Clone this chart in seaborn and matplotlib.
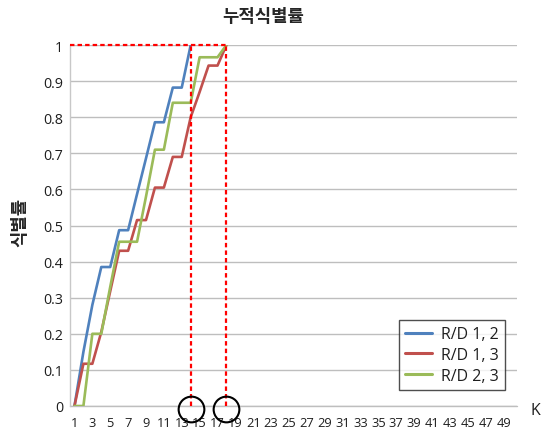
import matplotlib
matplotlib.use("Agg")
import matplotlib.pyplot as plt
import seaborn as sns
import pandas as pd

# Cumulative identification rate by rank K
series_names = ["R/D 1, 2", "R/D 1, 3", "R/D 2, 3"]
rd12 = [0, 0.15, 0.28, 0.385, 0.385, 0.487, 0.487, 0.587, 0.686, 0.786,
        0.786, 0.882, 0.882, 1.0]
rd13 = [0, 0.117, 0.117, 0.205, 0.318, 0.43, 0.43, 0.515, 0.515, 0.605,
        0.605, 0.69, 0.69, 0.8, 0.87, 0.943, 0.943, 1.0]
rd23 = [0, 0, 0.2, 0.2, 0.33, 0.455, 0.455, 0.455, 0.58, 0.71,
        0.71, 0.84, 0.84, 0.84, 0.966, 0.966, 0.966, 1.0]
colors = ["#4F81BD", "#C0504D", "#9BBB59"]

k_max = 50
x_tick_labels = list(range(1, k_max, 2))
y_ticks = [0, 0.1, 0.2, 0.3, 0.4, 0.5, 0.6, 0.7, 0.8, 0.9, 1]
y_tick_labels = ["0", "0.1", "0.2", "0.3", "0.4", "0.5", "0.6", "0.7", "0.8", "0.9", "1"]
marked_ranks = [14, 18]

rows = []
for name, vals in zip(series_names, [rd12, rd13, rd23]):
    for k, v in enumerate(vals, start=1):
        rows.append({"K": k, "rate": v, "series": name})
df = pd.DataFrame(rows)

sns.set_theme(style="white")
plt.rcParams["font.family"] = ["Open Sans", "Noto Sans CJK KR", "DejaVu Sans"]
korean = ["Noto Sans CJK KR", "DejaVu Sans"]
text_color = "#1E1E1E"

fig = plt.figure(figsize=(5.45, 4.31), dpi=100)
ax = fig.add_axes([70 / 545, 24 / 431, 447 / 545, 361 / 431])

sns.lineplot(data=df, x="K", y="rate", hue="series", hue_order=series_names,
             palette=colors, linewidth=1.9, errorbar=None, ax=ax, zorder=3)

ax.set_xlim(0.5, k_max + 0.5)
ax.set_ylim(0, 1)
ax.set_xticks(x_tick_labels)
ax.set_xticklabels([str(v) for v in x_tick_labels], fontsize=9.3, color=text_color)
ax.set_yticks(y_ticks)
ax.set_yticklabels(y_tick_labels, fontsize=10.3, color=text_color)
ax.tick_params(axis="both", length=0)
ax.tick_params(axis="x", pad=7.5)
ax.tick_params(axis="y", pad=5)
ax.set_xlabel("")
ax.set_ylabel("")

# horizontal gridlines
ax.yaxis.grid(True, color="#BEBEBE", linewidth=1.0)
ax.xaxis.grid(False)
for side in ["top", "right", "bottom"]:
    ax.spines[side].set_visible(False)
ax.spines["left"].set_color("#C8C8C8")
ax.spines["left"].set_linewidth(1.0)
ax.axhline(0, color="#BEBEBE", linewidth=1.0, zorder=1, clip_on=False)

# rank markers where the rate reaches 1
dash = (0, (2, 1.4))
ax.plot([0.5, marked_ranks[1]], [1, 1], color="#FF0000", linewidth=1.6,
        linestyle=dash, zorder=5, clip_on=False)
for k in marked_ranks:
    ax.plot([k, k], [0, 1], color="#FF0000", linewidth=1.6,
            linestyle=dash, zorder=5)
    ax.plot([k], [-0.008], marker="o", markersize=18.5, fillstyle="none",
            markeredgecolor="black", markeredgewidth=1.5, linestyle="none",
            zorder=6, clip_on=False)

handles, labels = ax.get_legend_handles_labels()
leg = ax.legend(handles, labels, loc="lower right",
                bbox_to_anchor=(0.991, 0.022), frameon=True, fancybox=False,
                fontsize=11.5, handlelength=1.7, handletextpad=0.55,
                labelspacing=0.3, borderpad=0.4)
leg.get_frame().set_edgecolor("#222222")
leg.get_frame().set_linewidth(1.0)
for line in leg.get_lines():
    line.set_linewidth(2.2)
for t in leg.get_texts():
    t.set_color(text_color)

ax.text(535 / 447 - 70 / 447, -0.011, "K", transform=ax.transAxes,
        fontsize=11.5, ha="center", va="center", color=text_color)

fig.text(263.5 / 545, 1 - 17.5 / 431, "누적식별률", fontsize=12.8,
         fontweight="bold", ha="center", va="center", family=korean)
fig.text(20.7 / 545, 1 - 222 / 431, "식별률", fontsize=12.8,
         fontweight="bold", ha="center", va="center", rotation=90,
         family=korean)

fig.savefig("out.png", dpi=100)
